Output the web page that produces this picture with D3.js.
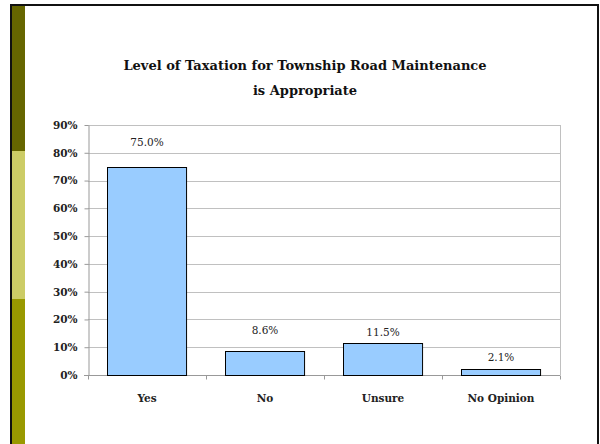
<!DOCTYPE html>
<html>
<head>
<meta charset="utf-8">
<script src="https://cdn.jsdelivr.net/npm/d3@7"></script>
<style>
  body { margin: 0; background: #fff; }
  svg { display: block; }
  .grid line { stroke: #c0c0c0; }
  .axis path, .axis line { stroke: #999; }
  .axis text { font-family: 'DejaVu Serif', serif; font-weight: bold; fill: #222; }
</style>
</head>
<body>
<svg width="600" height="444"></svg>
<script>
// chart data
var categories = ['Yes', 'No', 'Unsure', 'No Opinion'];
var percents = [75.0, 8.6, 11.5, 2.1];
var yTicks = [0, 10, 20, 30, 40, 50, 60, 70, 80, 90];
// how far each data label sits above its bar (labels were placed by hand in the original)
var labelLift = [21, 17, 7, 8];

var svg = d3.select('svg');

// slide frame: black border and three-tone stripe on the left
svg.append('rect').attr('x', 10).attr('y', 4).attr('width', 589).attr('height', 444)
    .attr('fill', '#fff').attr('stroke', 'none');
svg.append('rect').attr('x', 10).attr('y', 4).attr('width', 589).attr('height', 2).attr('fill', '#111');
svg.append('rect').attr('x', 10).attr('y', 4).attr('width', 2).attr('height', 440).attr('fill', '#111');
svg.append('rect').attr('x', 597).attr('y', 4).attr('width', 2).attr('height', 440).attr('fill', '#111');
var stripes = [['#666600', 6, 151], ['#cccc66', 151, 299], ['#999900', 299, 444]];
svg.selectAll('.stripe').data(stripes).enter().append('rect')
    .attr('class', 'stripe')
    .attr('x', 12).attr('width', 13)
    .attr('y', d => d[1]).attr('height', d => d[2] - d[1])
    .attr('fill', d => d[0]);

var padding = { t: 125, l: 88, r: 560, b: 375 };

var x = d3.scaleBand()
    .domain(categories)
    .range([padding.l, padding.r])
    .paddingInner(0.33)
    .paddingOuter(0.165);
var xBand = d3.scaleBand().domain(categories).range([padding.l, padding.r]);

var y = d3.scaleLinear()
    .domain([0, 90])
    .range([padding.b, padding.t]);

// title
var title = svg.append('text')
    .attr('text-anchor', 'middle')
    .style('font-family', "'DejaVu Serif', serif")
    .style('font-weight', 'bold')
    .style('font-size', '13px')
    .style('fill', '#111');
title.append('tspan').attr('x', 305).attr('y', 70).text('Level of Taxation for Township Road Maintenance');
title.append('tspan').attr('x', 305).attr('y', 95).text('is Appropriate');

// gridlines
svg.append('g').attr('class', 'grid')
    .selectAll('line').data(yTicks).enter().append('line')
    .attr('x1', padding.l).attr('x2', padding.r)
    .attr('y1', d => Math.round(y(d)) + 0.5).attr('y2', d => Math.round(y(d)) + 0.5);
svg.append('line').attr('class', 'grid')
    .attr('x1', padding.r + 0.5).attr('x2', padding.r + 0.5)
    .attr('y1', padding.t).attr('y2', padding.b)
    .style('stroke', '#c0c0c0');

// y axis
var yAxis = svg.append('g').attr('class', 'axis')
    .attr('transform', 'translate(' + (padding.l + 0.5) + ',0)')
    .call(d3.axisLeft(y).tickValues(yTicks).tickFormat(d => d + '%').tickSize(4).tickSizeOuter(0).tickPadding(7));
yAxis.selectAll('text').style('font-size', '10.5px');

// x axis with ticks at band boundaries
var xAxis = svg.append('g').attr('class', 'axis')
    .attr('transform', 'translate(0,' + (padding.b + 0.5) + ')');
xAxis.append('line').attr('x1', padding.l - 4).attr('x2', padding.r).style('stroke', '#999');
xAxis.selectAll('.tk').data(categories.concat(['end'])).enter().append('line')
    .attr('class', 'tk')
    .attr('x1', (d, i) => Math.round(padding.l + i * xBand.step()) + 0.5)
    .attr('x2', (d, i) => Math.round(padding.l + i * xBand.step()) + 0.5)
    .attr('y1', 0).attr('y2', 4)
    .style('stroke', '#999');
xAxis.selectAll('.cat').data(categories).enter().append('text')
    .attr('class', 'cat')
    .attr('x', d => xBand(d) + xBand.bandwidth() / 2)
    .attr('y', 26)
    .attr('text-anchor', 'middle')
    .style('font-size', '10.5px')
    .text(d => d);

// bars
svg.selectAll('.bar').data(percents).enter().append('rect')
    .attr('class', 'bar')
    .attr('x', (d, i) => Math.round(x(categories[i])) + 0.5)
    .attr('y', d => Math.round(y(d)) + 0.5)
    .attr('width', x.bandwidth())
    .attr('height', d => Math.round(y(0)) - Math.round(y(d)))
    .attr('fill', '#99ccff')
    .attr('stroke', '#000')
    .attr('stroke-width', 1);

// data labels
svg.selectAll('.lbl').data(percents).enter().append('text')
    .attr('class', 'lbl')
    .attr('x', (d, i) => xBand(categories[i]) + xBand.bandwidth() / 2)
    .attr('y', (d, i) => y(d) - labelLift[i])
    .attr('text-anchor', 'middle')
    .style('font-family', "'DejaVu Serif', serif")
    .style('font-size', '10.5px')
    .style('fill', '#222')
    .text(d => d.toFixed(1) + '%');
</script>
</body>
</html>
